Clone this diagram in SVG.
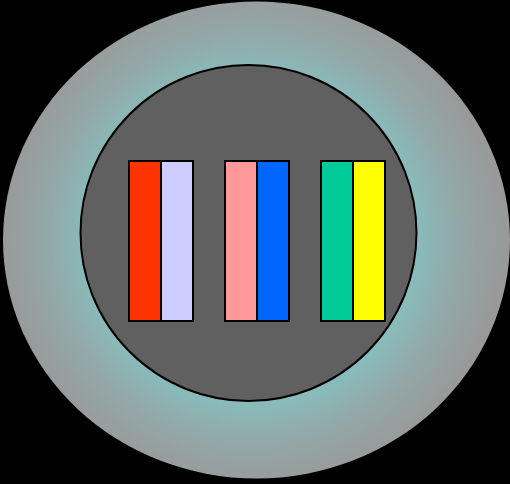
<svg xmlns="http://www.w3.org/2000/svg" width="510" height="484" viewBox="0 0 510 484">
<defs>
<radialGradient id="halo" gradientUnits="userSpaceOnUse" cx="252" cy="238" r="252">
<stop offset="0" stop-color="#7FCCCC"/>
<stop offset="0.62" stop-color="#86C0C0"/>
<stop offset="0.8" stop-color="#93A9A9"/>
<stop offset="1" stop-color="#999999"/>
</radialGradient>
</defs>
<style>
.bar{stroke:#000;stroke-width:2}
</style>
<rect x="0" y="0" width="510" height="484" fill="#000"/>
<g id="outer">
<ellipse cx="256.5" cy="240" rx="253.5" ry="238.5" fill="url(#halo)"/>
</g>
<g id="inner">
<circle cx="248.5" cy="233" r="168" fill="#606060" stroke="#000" stroke-width="2"/>
</g>
<g id="pair1">
<rect class="bar" x="129" y="161" width="32" height="160" fill="#FF3300"/>
<rect class="bar" x="161" y="161" width="32" height="160" fill="#CCCCFF"/>
</g>
<g id="pair2">
<rect class="bar" x="225" y="161" width="32" height="160" fill="#FF9999"/>
<rect class="bar" x="257" y="161" width="32" height="160" fill="#0066FF"/>
</g>
<g id="pair3">
<rect class="bar" x="321" y="161" width="32" height="160" fill="#00CC99"/>
<rect class="bar" x="353" y="161" width="32" height="160" fill="#FFFF00"/>
</g>
<g id="connectors"/>
</svg>
